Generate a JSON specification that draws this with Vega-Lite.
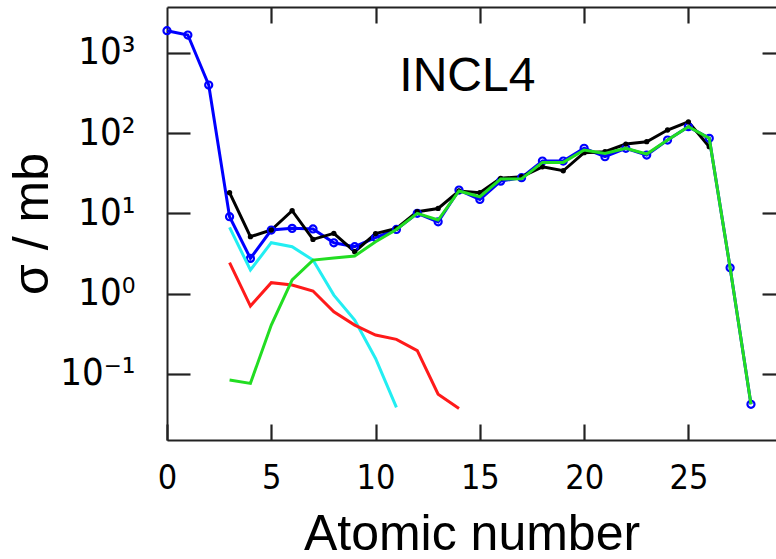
{
  "$schema": "https://vega.github.io/schema/vega-lite/v6.json",
  "width": 609,
  "height": 433,
  "autosize": "none",
  "padding": {"left": 167, "top": 7, "right": 0, "bottom": 119},
  "background": "white",
  "config": {
    "view": {"stroke": null},
    "font": "Liberation Sans",
    "axis": {"grid": false, "domainColor": "#222222", "domainWidth": 2, "tickColor": "#222222", "tickWidth": 2.2, "labelColor": "black", "titleColor": "black", "titleFontWeight": "normal", "labelFlush": false, "labelOverlap": false}
  },
  "datasets": {
    "d": [
      {"Z": 0, "sigma": 1880, "s": "blue"}, {"Z": 1, "sigma": 1660, "s": "blue"}, {"Z": 2, "sigma": 396, "s": "blue"},
      {"Z": 3, "sigma": 9.08, "s": "blue"}, {"Z": 4, "sigma": 2.75, "s": "blue"}, {"Z": 5, "sigma": 6.2, "s": "blue"},
      {"Z": 6, "sigma": 6.5, "s": "blue"}, {"Z": 7, "sigma": 6.4, "s": "blue"}, {"Z": 8, "sigma": 4.3, "s": "blue"},
      {"Z": 9, "sigma": 3.84, "s": "blue"}, {"Z": 10, "sigma": 5.0, "s": "blue"}, {"Z": 11, "sigma": 6.3, "s": "blue"},
      {"Z": 12, "sigma": 10, "s": "blue"}, {"Z": 13, "sigma": 7.85, "s": "blue"}, {"Z": 14, "sigma": 19.5, "s": "blue"},
      {"Z": 15, "sigma": 14.9, "s": "blue"}, {"Z": 16, "sigma": 25.2, "s": "blue"}, {"Z": 17, "sigma": 27.8, "s": "blue"},
      {"Z": 18, "sigma": 44.8, "s": "blue"}, {"Z": 19, "sigma": 44.8, "s": "blue"}, {"Z": 20, "sigma": 64.6, "s": "blue"},
      {"Z": 21, "sigma": 50.7, "s": "blue"}, {"Z": 22, "sigma": 64.6, "s": "blue"}, {"Z": 23, "sigma": 53.2, "s": "blue"},
      {"Z": 24, "sigma": 81.8, "s": "blue"}, {"Z": 25, "sigma": 120, "s": "blue"}, {"Z": 26, "sigma": 85.9, "s": "blue"},
      {"Z": 27, "sigma": 2.1, "s": "blue"}, {"Z": 28, "sigma": 0.0419, "s": "blue"},
      {"Z": 3, "sigma": 18.1, "s": "black"}, {"Z": 4, "sigma": 5.12, "s": "black"}, {"Z": 5, "sigma": 6.2, "s": "black"},
      {"Z": 6, "sigma": 10.8, "s": "black"}, {"Z": 7, "sigma": 4.74, "s": "black"}, {"Z": 8, "sigma": 5.64, "s": "black"},
      {"Z": 9, "sigma": 3.33, "s": "black"}, {"Z": 10, "sigma": 5.6, "s": "black"}, {"Z": 11, "sigma": 6.5, "s": "black"},
      {"Z": 12, "sigma": 10.5, "s": "black"}, {"Z": 13, "sigma": 11.5, "s": "black"}, {"Z": 14, "sigma": 19, "s": "black"},
      {"Z": 15, "sigma": 18.1, "s": "black"}, {"Z": 16, "sigma": 27.3, "s": "black"}, {"Z": 17, "sigma": 28.6, "s": "black"},
      {"Z": 18, "sigma": 38, "s": "black"}, {"Z": 19, "sigma": 33.9, "s": "black"}, {"Z": 20, "sigma": 56.9, "s": "black"},
      {"Z": 21, "sigma": 58.5, "s": "black"}, {"Z": 22, "sigma": 72.9, "s": "black"}, {"Z": 23, "sigma": 78, "s": "black"},
      {"Z": 24, "sigma": 109, "s": "black"}, {"Z": 25, "sigma": 138, "s": "black"}, {"Z": 26, "sigma": 67.6, "s": "black"},
      {"Z": 3, "sigma": 6.7, "s": "cyan"}, {"Z": 4, "sigma": 1.97, "s": "cyan"}, {"Z": 5, "sigma": 4.31, "s": "cyan"},
      {"Z": 6, "sigma": 3.84, "s": "cyan"}, {"Z": 7, "sigma": 2.62, "s": "cyan"}, {"Z": 8, "sigma": 0.96, "s": "cyan"},
      {"Z": 9, "sigma": 0.469, "s": "cyan"}, {"Z": 10, "sigma": 0.156, "s": "cyan"}, {"Z": 11, "sigma": 0.0384, "s": "cyan"},
      {"Z": 3, "sigma": 2.43, "s": "red"}, {"Z": 4, "sigma": 0.70, "s": "red"}, {"Z": 5, "sigma": 1.37, "s": "red"},
      {"Z": 6, "sigma": 1.28, "s": "red"}, {"Z": 7, "sigma": 1.08, "s": "red"}, {"Z": 8, "sigma": 0.595, "s": "red"},
      {"Z": 9, "sigma": 0.406, "s": "red"}, {"Z": 10, "sigma": 0.305, "s": "red"}, {"Z": 11, "sigma": 0.27, "s": "red"},
      {"Z": 12, "sigma": 0.195, "s": "red"}, {"Z": 13, "sigma": 0.056, "s": "red"}, {"Z": 14, "sigma": 0.0373, "s": "red"},
      {"Z": 3, "sigma": 0.084, "s": "green"}, {"Z": 4, "sigma": 0.0764, "s": "green"}, {"Z": 5, "sigma": 0.406, "s": "green"},
      {"Z": 6, "sigma": 1.48, "s": "green"}, {"Z": 7, "sigma": 2.62, "s": "green"}, {"Z": 8, "sigma": 2.78, "s": "green"},
      {"Z": 9, "sigma": 2.94, "s": "green"}, {"Z": 10, "sigma": 4.43, "s": "green"}, {"Z": 11, "sigma": 6.3, "s": "green"},
      {"Z": 12, "sigma": 10, "s": "green"}, {"Z": 13, "sigma": 8.26, "s": "green"}, {"Z": 14, "sigma": 19, "s": "green"},
      {"Z": 15, "sigma": 16.1, "s": "green"}, {"Z": 16, "sigma": 26.7, "s": "green"}, {"Z": 17, "sigma": 26.9, "s": "green"},
      {"Z": 18, "sigma": 43.1, "s": "green"}, {"Z": 19, "sigma": 43.1, "s": "green"}, {"Z": 20, "sigma": 61.4, "s": "green"},
      {"Z": 21, "sigma": 55.8, "s": "green"}, {"Z": 22, "sigma": 64.6, "s": "green"}, {"Z": 23, "sigma": 54.8, "s": "green"},
      {"Z": 24, "sigma": 81.8, "s": "green"}, {"Z": 25, "sigma": 120, "s": "green"}, {"Z": 26, "sigma": 86, "s": "green"},
      {"Z": 27, "sigma": 2.1, "s": "green"}, {"Z": 28, "sigma": 0.042, "s": "green"}
    ],
    "lab": [{"Z": 14.4, "sigma": 333, "text": "INCL4"}]
  },
  "data": {"name": "d"},
  "encoding": {
    "x": {"field": "Z", "type": "quantitative", "scale": {"domain": [0, 29.2], "nice": false, "zero": false}},
    "y": {"field": "sigma", "type": "quantitative", "scale": {"type": "log", "domain": [0.01507, 3707], "nice": false}}
  },
  "layer": [
    {
      "transform": [{"filter": "datum.s === 'blue'"}],
      "mark": {"type": "line", "color": "#0000FF", "strokeWidth": 3},
      "encoding": {
        "x": {"field": "Z", "type": "quantitative", "axis": {"orient": "top", "values": [5, 10, 15, 20, 25], "tickSize": -16, "labels": false, "title": null, "domain": true}},
        "y": {"field": "sigma", "type": "quantitative", "axis": {"orient": "right", "values": [0.1, 1, 10, 100, 1000], "tickSize": -14, "labels": false, "title": null, "domain": false}}
      }
    },
    {
      "transform": [{"filter": "datum.s === 'black'"}],
      "mark": {"type": "line", "color": "black", "strokeWidth": 3},
      "encoding": {
        "x": {"field": "Z", "type": "quantitative", "title": "Atomic number", "axis": {"orient": "bottom", "values": [0, 5, 10, 15, 20, 25], "tickSize": -16, "labelFont": "DejaVu Sans Condensed, Liberation Sans", "labelFontSize": 34, "labelPadding": 37, "titleFontSize": 50, "titlePadding": 14}},
        "y": {"field": "sigma", "type": "quantitative", "title": "σ / mb", "axis": {"orient": "left", "values": [0.1, 1, 10, 100, 1000], "tickSize": -23, "domain": true, "labelFont": "DejaVu Sans Condensed, Liberation Sans", "labelFontSize": 38, "labelPadding": 55, "labelExpr": "datum.value >= 999 ? '10³' : datum.value >= 99 ? '10²' : datum.value >= 9 ? '10¹' : datum.value >= 0.9 ? '10⁰' : '10⁻¹'", "titleFontSize": 50, "titlePadding": 2}}
      }
    },
    {
      "transform": [{"filter": "datum.s === 'blue'"}],
      "mark": {"type": "point", "shape": "circle", "filled": false, "color": "#0000FF", "strokeWidth": 2.2, "size": 50, "opacity": 1},
      "encoding": {"x": {"field": "Z", "type": "quantitative", "axis": null}, "y": {"field": "sigma", "type": "quantitative", "axis": null}}
    },
    {
      "transform": [{"filter": "datum.s === 'black'"}],
      "mark": {"type": "point", "shape": "circle", "filled": true, "color": "black", "size": 28, "opacity": 1},
      "encoding": {"x": {"field": "Z", "type": "quantitative", "axis": null}, "y": {"field": "sigma", "type": "quantitative", "axis": null}}
    },
    {
      "transform": [{"filter": "datum.s === 'cyan'"}],
      "mark": {"type": "line", "color": "#22EEF2", "strokeWidth": 3},
      "encoding": {"x": {"field": "Z", "type": "quantitative", "axis": null}, "y": {"field": "sigma", "type": "quantitative", "axis": null}}
    },
    {
      "transform": [{"filter": "datum.s === 'red'"}],
      "mark": {"type": "line", "color": "#FF1A1A", "strokeWidth": 3},
      "encoding": {"x": {"field": "Z", "type": "quantitative", "axis": null}, "y": {"field": "sigma", "type": "quantitative", "axis": null}}
    },
    {
      "transform": [{"filter": "datum.s === 'green'"}],
      "mark": {"type": "line", "color": "#22DD22", "strokeWidth": 3},
      "encoding": {"x": {"field": "Z", "type": "quantitative", "axis": null}, "y": {"field": "sigma", "type": "quantitative", "axis": null}}
    },
    {
      "data": {"name": "lab"},
      "mark": {"type": "text", "font": "Liberation Sans", "fontSize": 48, "color": "black", "baseline": "alphabetic", "align": "center"},
      "encoding": {"x": {"field": "Z", "type": "quantitative", "axis": null}, "y": {"field": "sigma", "type": "quantitative", "axis": null}, "text": {"field": "text"}}
    }
  ]
}
